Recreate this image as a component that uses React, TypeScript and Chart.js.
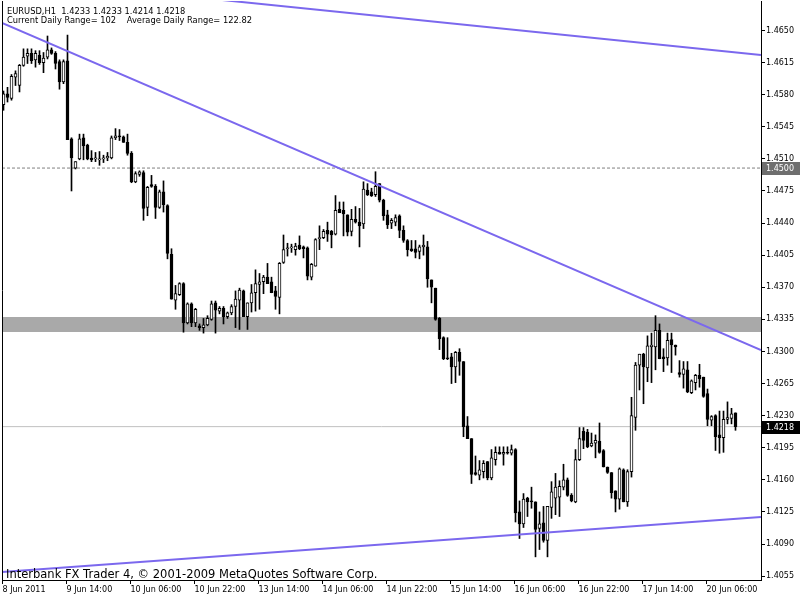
import React, { useEffect, useRef } from "react";
import { Chart, registerables } from "chart.js";
Chart.register(...registerables);

// ---- OHLC data (EURUSD H1, 184 bars) ----
const opens = [
  1.4569, 1.4581, 1.4576, 1.4599, 1.4590, 1.4612, 1.4622, 1.4625, 1.4618, 1.4623,
  1.4615, 1.4621, 1.4629, 1.4625, 1.4616, 1.4594, 1.4617, 1.4532, 1.4500, 1.4510,
  1.4533, 1.4525, 1.4511, 1.4510, 1.4509, 1.4510, 1.4511, 1.4511, 1.4533, 1.4535,
  1.4534, 1.4528, 1.4516, 1.4485, 1.4493, 1.4495, 1.4457, 1.4482, 1.4480, 1.4457,
  1.4474, 1.4459, 1.4406, 1.4356, 1.4362, 1.4374, 1.4331, 1.4352, 1.4331, 1.4328,
  1.4326, 1.4329, 1.4335, 1.4353, 1.4344, 1.4347, 1.4338, 1.4342, 1.4349, 1.4356,
  1.4366, 1.4338, 1.4353, 1.4364, 1.4373, 1.4376, 1.4381, 1.4376, 1.4366, 1.4359,
  1.4397, 1.4412, 1.4413, 1.4411, 1.4416, 1.4414, 1.4413, 1.4381, 1.4393, 1.4423,
  1.4424, 1.4432, 1.4431, 1.4428, 1.4455, 1.4454, 1.4449, 1.4431, 1.4444, 1.4441,
  1.4439, 1.4476, 1.4474, 1.4471, 1.4483, 1.4465, 1.4449, 1.4440, 1.4441, 1.4448,
  1.4432, 1.4421, 1.4412, 1.4412, 1.4409, 1.4414, 1.4414, 1.4378, 1.4369, 1.4336,
  1.4315, 1.4293, 1.4294, 1.4283, 1.4299, 1.4289, 1.4219, 1.4205, 1.4168, 1.4165,
  1.4169, 1.4180, 1.4162, 1.4182, 1.4190, 1.4188, 1.4190, 1.4189, 1.4193, 1.4125,
  1.4112, 1.4140, 1.4137, 1.4136, 1.4107, 1.4113, 1.4094, 1.4130, 1.4140, 1.4141,
  1.4152, 1.4160, 1.4143, 1.4136, 1.4182, 1.4213, 1.4212, 1.4197, 1.4200, 1.4202,
  1.4192, 1.4174, 1.4168, 1.4148, 1.4139, 1.4171, 1.4136, 1.4169, 1.4228, 1.4285,
  1.4297, 1.4282, 1.4305, 1.4305, 1.4323, 1.4294, 1.4293, 1.4313, 1.4307, 1.4277,
  1.4275, 1.4280, 1.4255, 1.4266, 1.4274, 1.4272, 1.4254, 1.4225, 1.4230, 1.4209,
  1.4206, 1.4226, 1.4227, 1.4233,
];
const highs = [
  1.4584, 1.4588, 1.4602, 1.4606, 1.4613, 1.4630, 1.4630, 1.4630, 1.4628, 1.4628,
  1.4626, 1.4644, 1.4631, 1.4627, 1.4618, 1.4618, 1.4645, 1.4533, 1.4507, 1.4537,
  1.4537, 1.4526, 1.4519, 1.4517, 1.4518, 1.4514, 1.4517, 1.4535, 1.4543, 1.4542,
  1.4535, 1.4537, 1.4518, 1.4496, 1.4497, 1.4497, 1.4480, 1.4492, 1.4482, 1.4476,
  1.4486, 1.4460, 1.4412, 1.4372, 1.4375, 1.4375, 1.4353, 1.4353, 1.4347, 1.4330,
  1.4336, 1.4339, 1.4355, 1.4355, 1.4349, 1.4349, 1.4343, 1.4351, 1.4366, 1.4369,
  1.4367, 1.4353, 1.4373, 1.4389, 1.4385, 1.4383, 1.4396, 1.4381, 1.4371, 1.4397,
  1.4427, 1.4418, 1.4417, 1.4418, 1.4426, 1.4415, 1.4414, 1.4396, 1.4423, 1.4437,
  1.4433, 1.4441, 1.4432, 1.4470, 1.4463, 1.4463, 1.4449, 1.4455, 1.4458, 1.4456,
  1.4485, 1.4483, 1.4478, 1.4496, 1.4483, 1.4466, 1.4454, 1.4445, 1.4449, 1.4449,
  1.4437, 1.4422, 1.4421, 1.4421, 1.4416, 1.4427, 1.4420, 1.4378, 1.4369, 1.4337,
  1.4316, 1.4315, 1.4298, 1.4300, 1.4303, 1.4289, 1.4229, 1.4205, 1.4186, 1.4181,
  1.4181, 1.4180, 1.4193, 1.4196, 1.4196, 1.4196, 1.4196, 1.4198, 1.4194, 1.4137,
  1.4145, 1.4141, 1.4152, 1.4136, 1.4125, 1.4131, 1.4131, 1.4158, 1.4167, 1.4159,
  1.4177, 1.4162, 1.4145, 1.4193, 1.4217, 1.4217, 1.4215, 1.4211, 1.4209, 1.4222,
  1.4193, 1.4174, 1.4168, 1.4148, 1.4173, 1.4172, 1.4171, 1.4250, 1.4288, 1.4297,
  1.4298, 1.4317, 1.4320, 1.4339, 1.4330, 1.4303, 1.4320, 1.4320, 1.4307, 1.4290,
  1.4289, 1.4289, 1.4269, 1.4275, 1.4286, 1.4272, 1.4259, 1.4230, 1.4231, 1.4235,
  1.4235, 1.4245, 1.4238, 1.4233,
];
const lows = [
  1.4563, 1.4572, 1.4574, 1.4590, 1.4583, 1.4611, 1.4614, 1.4614, 1.4610, 1.4613,
  1.4604, 1.4619, 1.4624, 1.4608, 1.4586, 1.4592, 1.4531, 1.4475, 1.4499, 1.4509,
  1.4509, 1.4509, 1.4507, 1.4507, 1.4503, 1.4506, 1.4508, 1.4510, 1.4531, 1.4530,
  1.4528, 1.4514, 1.4484, 1.4484, 1.4491, 1.4443, 1.4448, 1.4479, 1.4445, 1.4456,
  1.4452, 1.4401, 1.4357, 1.4346, 1.4361, 1.4321, 1.4330, 1.4327, 1.4327, 1.4323,
  1.4320, 1.4328, 1.4334, 1.4320, 1.4341, 1.4330, 1.4336, 1.4340, 1.4326, 1.4324,
  1.4338, 1.4324, 1.4343, 1.4344, 1.4346, 1.4363, 1.4374, 1.4364, 1.4346, 1.4341,
  1.4396, 1.4404, 1.4408, 1.4405, 1.4411, 1.4402, 1.4378, 1.4378, 1.4393, 1.4411,
  1.4423, 1.4420, 1.4413, 1.4427, 1.4453, 1.4426, 1.4426, 1.4426, 1.4440, 1.4414,
  1.4434, 1.4470, 1.4469, 1.4469, 1.4463, 1.4443, 1.4434, 1.4434, 1.4437, 1.4424,
  1.4419, 1.4404, 1.4409, 1.4402, 1.4401, 1.4405, 1.4370, 1.4353, 1.4334, 1.4302,
  1.4291, 1.4291, 1.4265, 1.4266, 1.4274, 1.4207, 1.4205, 1.4156, 1.4165, 1.4160,
  1.4162, 1.4160, 1.4160, 1.4176, 1.4188, 1.4176, 1.4188, 1.4187, 1.4114, 1.4096,
  1.4108, 1.4120, 1.4129, 1.4076, 1.4084, 1.4092, 1.4076, 1.4118, 1.4122, 1.4120,
  1.4149, 1.4142, 1.4136, 1.4135, 1.4181, 1.4194, 1.4195, 1.4196, 1.4184, 1.4189,
  1.4174, 1.4167, 1.4140, 1.4125, 1.4128, 1.4136, 1.4131, 1.4163, 1.4214, 1.4258,
  1.4243, 1.4267, 1.4266, 1.4280, 1.4292, 1.4278, 1.4285, 1.4277, 1.4296, 1.4272,
  1.4260, 1.4255, 1.4254, 1.4258, 1.4261, 1.4250, 1.4219, 1.4219, 1.4192, 1.4189,
  1.4190, 1.4221, 1.4221, 1.4214,
];
const closes = [
  1.4581, 1.4577, 1.4600, 1.4603, 1.4612, 1.4621, 1.4625, 1.4617, 1.4625, 1.4615,
  1.4620, 1.4629, 1.4625, 1.4614, 1.4594, 1.4616, 1.4531, 1.4511, 1.4507, 1.4532,
  1.4524, 1.4510, 1.4509, 1.4511, 1.4510, 1.4511, 1.4513, 1.4533, 1.4535, 1.4534,
  1.4528, 1.4516, 1.4485, 1.4494, 1.4496, 1.4456, 1.4479, 1.4480, 1.4457, 1.4474,
  1.4460, 1.4407, 1.4357, 1.4363, 1.4374, 1.4331, 1.4352, 1.4331, 1.4346, 1.4326,
  1.4329, 1.4336, 1.4352, 1.4345, 1.4347, 1.4338, 1.4342, 1.4349, 1.4357, 1.4367,
  1.4338, 1.4353, 1.4364, 1.4374, 1.4376, 1.4381, 1.4374, 1.4364, 1.4360, 1.4396,
  1.4411, 1.4413, 1.4414, 1.4415, 1.4412, 1.4412, 1.4382, 1.4395, 1.4422, 1.4424,
  1.4431, 1.4428, 1.4427, 1.4454, 1.4451, 1.4450, 1.4430, 1.4444, 1.4441, 1.4437,
  1.4477, 1.4471, 1.4470, 1.4480, 1.4465, 1.4448, 1.4438, 1.4443, 1.4446, 1.4432,
  1.4421, 1.4411, 1.4410, 1.4408, 1.4414, 1.4416, 1.4379, 1.4370, 1.4335, 1.4314,
  1.4292, 1.4292, 1.4283, 1.4299, 1.4289, 1.4218, 1.4205, 1.4166, 1.4166, 1.4171,
  1.4178, 1.4162, 1.4184, 1.4190, 1.4188, 1.4190, 1.4189, 1.4193, 1.4124, 1.4112,
  1.4139, 1.4136, 1.4136, 1.4106, 1.4112, 1.4094, 1.4131, 1.4147, 1.4152, 1.4153,
  1.4160, 1.4143, 1.4137, 1.4182, 1.4205, 1.4203, 1.4196, 1.4200, 1.4203, 1.4190,
  1.4174, 1.4168, 1.4146, 1.4139, 1.4172, 1.4136, 1.4169, 1.4230, 1.4285, 1.4297,
  1.4283, 1.4306, 1.4307, 1.4323, 1.4292, 1.4292, 1.4312, 1.4307, 1.4305, 1.4275,
  1.4281, 1.4256, 1.4268, 1.4274, 1.4270, 1.4251, 1.4226, 1.4229, 1.4207, 1.4206,
  1.4226, 1.4228, 1.4232, 1.4218,
];

// ---- axis labels ----
const xTickIndex = [0, 16, 32, 48, 64, 80, 96, 112, 128, 144, 160, 176];
const xTickLabels = [
  "8 Jun 2011", "9 Jun 14:00", "10 Jun 06:00", "10 Jun 22:00", "13 Jun 14:00", "14 Jun 06:00",
  "14 Jun 22:00", "15 Jun 14:00", "16 Jun 06:00", "16 Jun 22:00", "17 Jun 14:00", "20 Jun 06:00",
];
const priceTicks = [
  1.4055, 1.4090, 1.4125, 1.4160, 1.4195, 1.4230, 1.4265, 1.4300, 1.4335,
  1.4370, 1.4405, 1.4440, 1.4475, 1.4510, 1.4545, 1.4580, 1.4615, 1.4650,
];

// ---- drawn objects (bar index, price) ----
const trendUpperIdx = [-0.375, 189.375];
const trendUpperPrice = [1.47078, 1.46232];
const trendMidIdx = [-0.375, 189.375];
const trendMidPrice = [1.46582, 1.43016];
const trendLowIdx = [-0.375, 189.375];
const trendLowPrice = [1.40595, 1.41195];
const zoneTop = 1.43376;
const zoneBottom = 1.43213;
const levelLine = 1.4500;
const bidLine = 1.4218;

const header1 = "EURUSD,H1  1.4233 1.4233 1.4214 1.4218";
const header2 = "Current Daily Range= 102    Average Daily Range= 122.82";
const footer = "Interbank FX Trader 4, \u00A9 2001-2009 MetaQuotes Software Corp.";

const X_MIN = -0.375;
const X_MAX = 189.375;
const Y_MIN = 1.405076;
const Y_MAX = 1.468217;
const FONT = "DejaVu Sans";
const PURPLE = "#7B68EE";

export default function App() {
  const ref = useRef<HTMLCanvasElement>(null);

  useEffect(() => {
    const idx = opens.map((_, i) => i);
    const bull = idx.map((i) => closes[i] >= opens[i]);
    const bodies = idx.map((i) => ({ x: i, y: [opens[i], closes[i]] }));
    const wicks = idx.map((i) => ({ x: i, y: [lows[i], highs[i]] }));
    const seg = (xs: number[], ys: number[]) => xs.map((x, k) => ({ x, y: ys[k] }));
    const flat = (v: number) => [{ x: X_MIN, y: v }, { x: X_MAX, y: v }];

    const markers = [
      { price: levelLine, bg: "#6E6E6E" },
      { price: bidLine, bg: "#000000" },
    ];

    const overlay = {
      id: "overlay",
      afterDraw(chart: any) {
        const { ctx, chartArea, scales } = chart;
        const y = scales.y;
        ctx.save();
        ctx.strokeStyle = "#000";
        ctx.lineWidth = 1;
        ctx.beginPath();
        ctx.moveTo(chartArea.left + 0.5, chartArea.top);
        ctx.lineTo(chartArea.left + 0.5, chartArea.bottom);
        ctx.stroke();
        markers.forEach((m) => {
          const py = Math.round(y.getPixelForValue(m.price));
          ctx.fillStyle = m.bg;
          ctx.fillRect(chartArea.right + 1, py - 6, 40, 13);
          ctx.fillStyle = "#fff";
          ctx.font = `8px "${FONT}"`;
          ctx.textBaseline = "middle";
          ctx.textAlign = "left";
          ctx.fillText(m.price.toFixed(4), chartArea.right + 5, py + 1);
        });
        ctx.restore();
      },
    };

    const noPad = (s: any) => {
      s.paddingTop = 0;
      s.paddingBottom = 0;
      s.paddingLeft = 0;
      s.paddingRight = 0;
    };

    const chart = new Chart(ref.current as HTMLCanvasElement, {
      type: "bar",
      data: {
        datasets: [
          { type: "line", data: seg(trendUpperIdx, trendUpperPrice), borderColor: PURPLE, borderWidth: 2, pointRadius: 0, order: 0 } as any,
          { type: "line", data: seg(trendMidIdx, trendMidPrice), borderColor: PURPLE, borderWidth: 2, pointRadius: 0, order: 0 } as any,
          { type: "line", data: seg(trendLowIdx, trendLowPrice), borderColor: PURPLE, borderWidth: 2, pointRadius: 0, order: 0 } as any,
          {
            type: "bar",
            data: bodies,
            backgroundColor: bull.map((b) => (b ? "#ffffff" : "#000000")),
            borderColor: "#000000",
            borderWidth: 1,
            borderSkipped: false,
            barThickness: 3,
            minBarLength: 1,
            grouped: false,
            order: 1,
          } as any,
          {
            type: "bar",
            data: wicks,
            backgroundColor: "#000000",
            borderWidth: 0,
            barThickness: 1,
            grouped: false,
            order: 2,
          } as any,
          { type: "line", data: flat(levelLine), borderColor: "#808080", borderWidth: 1, borderDash: [3, 2], pointRadius: 0, order: 3 } as any,
          { type: "line", data: flat(bidLine), borderColor: "#C0C0C0", borderWidth: 1, pointRadius: 0, order: 3 } as any,
          {
            type: "line",
            data: flat(zoneTop),
            borderWidth: 0,
            borderColor: "rgba(0,0,0,0)",
            backgroundColor: "#A9A9A9",
            fill: { value: zoneBottom },
            pointRadius: 0,
            order: 4,
          } as any,
        ],
      },
      options: {
        animation: false,
        responsive: false,
        devicePixelRatio: 1,
        events: [],
        layout: { padding: { left: 2, top: 1, right: 0, bottom: 0 } },
        plugins: { legend: { display: false }, tooltip: { enabled: false } },
        scales: {
          x: {
            type: "linear",
            position: "bottom",
            min: X_MIN,
            max: X_MAX,
            offset: false,
            grid: { drawOnChartArea: false, drawTicks: true, tickLength: 4, color: "#000", offset: false },
            border: { display: true, color: "#000", width: 1 },
            ticks: {
              autoSkip: false,
              maxRotation: 0,
              minRotation: 0,
              align: "start",
              padding: 1,
              color: "#000",
              font: { family: FONT, size: 8 },
              callback: (_v: any, i: number) => xTickLabels[i],
            },
            afterBuildTicks: (s: any) => {
              s.ticks = xTickIndex.map((v) => ({ value: v - 0.25 }));
            },
            afterFit: (s: any) => {
              s.height = 20;
              noPad(s);
            },
          },
          y: {
            type: "linear",
            position: "right",
            min: Y_MIN,
            max: Y_MAX,
            grid: { drawOnChartArea: false, drawTicks: true, tickLength: 4, color: "#000" },
            border: { display: true, color: "#000", width: 1 },
            ticks: {
              color: "#000",
              padding: 1,
              font: { family: FONT, size: 8 },
              callback: (v: any) => Number(v).toFixed(4),
            },
            afterBuildTicks: (s: any) => {
              s.ticks = priceTicks.map((v) => ({ value: v }));
            },
            afterFit: (s: any) => {
              s.width = 39;
              noPad(s);
            },
          },
        },
      } as any,
      plugins: [overlay],
    });
    return () => chart.destroy();
  }, []);

  const textStyle: React.CSSProperties = {
    position: "absolute",
    fontFamily: FONT,
    color: "#000",
    whiteSpace: "pre",
    pointerEvents: "none",
  };

  return (
    <div style={{ position: "absolute", left: 0, top: 0, width: 800, height: 600, background: "#fff", overflow: "hidden" }}>
      <canvas ref={ref} width={800} height={600} style={{ display: "block", width: 800, height: 600 }} />
      <div style={{ ...textStyle, left: 7, top: 6, fontSize: 8.3, lineHeight: "10px" }}>{header1}</div>
      <div style={{ ...textStyle, left: 7, top: 15, fontSize: 8.3, lineHeight: "10px" }}>{header2}</div>
      <div style={{ ...textStyle, left: 6, top: 568, fontSize: 11.5, lineHeight: "13px" }}>{footer}</div>
    </div>
  );
}
